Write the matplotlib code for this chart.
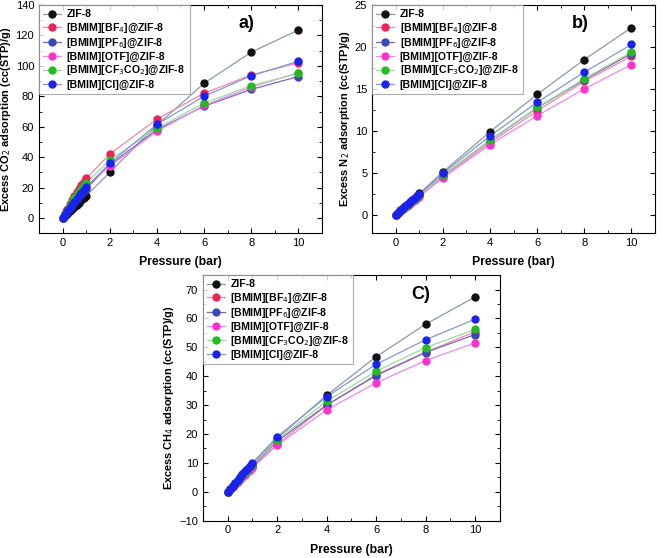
import matplotlib.pyplot as plt
from matplotlib.ticker import MultipleLocator

# pressure points (bar)
pressure = [0, 0.1, 0.2, 0.3, 0.4, 0.5, 0.6, 0.7, 0.8, 0.9, 1.0, 2, 4, 6, 8, 10]

labels = ["ZIF-8", "[BMIM][BF$_4$]@ZIF-8", "[BMIM][PF$_6$]@ZIF-8",
          "[BMIM][OTF]@ZIF-8", "[BMIM][CF$_3$CO$_2$]@ZIF-8", "[BMIM][Cl]@ZIF-8"]

co2_zif8 = [0, 1.4, 2.9, 4.3, 5.8, 7.2, 8.7, 10.1, 11.6, 13.0, 14.5, 30, 61, 88.5, 109, 123.5]
co2_bf4 = [0, 3.2, 6.2, 9.0, 11.7, 14.3, 16.8, 19.2, 21.6, 23.8, 26.0, 42, 65, 82, 94, 102]
co2_pf6 = [0, 2.3, 4.5, 6.6, 8.6, 10.6, 12.5, 14.3, 16.0, 17.6, 19.2, 35, 58, 73.5, 84.5, 93]
co2_otf = [0, 2.6, 5.0, 7.3, 9.5, 11.6, 13.6, 15.5, 17.4, 19.2, 21.0, 34, 57, 74, 86, 95.5]
co2_cf3co2 = [0, 2.8, 5.4, 8.0, 10.5, 12.9, 15.1, 17.3, 19.4, 21.4, 23.2, 38, 59, 75.5, 87, 95]
co2_cl = [0, 2.3, 4.5, 6.7, 8.8, 10.8, 12.8, 14.7, 16.6, 18.4, 20.2, 36, 61.5, 80, 93.5, 103]

n2_zif8 = [0, 0.26, 0.52, 0.78, 1.03, 1.29, 1.54, 1.79, 2.04, 2.29, 2.54, 5.1, 9.9, 14.35, 18.5, 22.3]
n2_bf4 = [0, 0.23, 0.46, 0.69, 0.92, 1.15, 1.37, 1.59, 1.81, 2.03, 2.25, 4.5, 8.6, 12.4, 15.9, 18.9]
n2_pf6 = [0, 0.24, 0.48, 0.72, 0.96, 1.19, 1.42, 1.65, 1.88, 2.11, 2.34, 4.7, 8.85, 12.75, 16.1, 19.2]
n2_otf = [0, 0.22, 0.44, 0.66, 0.88, 1.10, 1.32, 1.53, 1.74, 1.95, 2.16, 4.4, 8.35, 11.8, 15.0, 17.9]
n2_cf3co2 = [0, 0.24, 0.48, 0.72, 0.96, 1.19, 1.42, 1.65, 1.88, 2.11, 2.35, 4.7, 8.9, 12.8, 16.2, 19.4]
n2_cl = [0, 0.26, 0.51, 0.77, 1.02, 1.27, 1.52, 1.77, 2.01, 2.25, 2.5, 4.95, 9.4, 13.4, 17.0, 20.3]

ch4_zif8 = [0, 0.95, 1.9, 2.85, 3.8, 4.75, 5.7, 6.65, 7.6, 8.55, 9.5, 18.4, 33.4, 46.7, 58.0, 67.4]
ch4_bf4 = [0, 0.88, 1.75, 2.62, 3.48, 4.33, 5.18, 6.02, 6.86, 7.69, 8.5, 16.5, 29.9, 40.5, 48.3, 55.4]
ch4_pf6 = [0, 0.92, 1.83, 2.74, 3.64, 4.53, 5.42, 6.3, 7.18, 8.05, 8.9, 17.5, 30.0, 40.2, 48.2, 54.4]
ch4_otf = [0, 0.86, 1.72, 2.57, 3.41, 4.25, 5.08, 5.9, 6.72, 7.53, 8.3, 16.1, 28.3, 37.7, 45.4, 51.5]
ch4_cf3co2 = [0, 0.96, 1.91, 2.86, 3.8, 4.74, 5.67, 6.59, 7.51, 8.42, 9.3, 17.9, 31.3, 41.7, 49.9, 56.2]
ch4_cl = [0, 1.03, 2.05, 3.07, 4.08, 5.08, 6.07, 7.06, 8.04, 9.01, 10.0, 19.0, 32.9, 44.1, 52.6, 59.7]

marker_colors = ["#111111", "#ee2255", "#3a48b8", "#ff33cc", "#22bb22", "#1a22ee"]
line_colors = ["#8a9aa8", "#ee88aa", "#7a66bb", "#ee88ee", "#99dd99", "#8896cc"]

plt.rcParams['font.family'] = ['Liberation Sans', 'DejaVu Sans']

fig = plt.figure(figsize=(6.61, 5.58), dpi=100)


def panel(rect, series, ylim, ymajor, yminor, ylabel, tag):
    ax = fig.add_axes(rect)
    for vals, lab, mc, lc in zip(series, labels, marker_colors, line_colors):
        ax.plot(pressure, vals, '-', color=lc, lw=0.9, zorder=2)
        ax.plot(pressure, vals, 'o', color=mc, ms=5, zorder=3, label=lab)
    ax.set_xlim(-1, 11)
    ax.set_ylim(*ylim)
    ax.xaxis.set_major_locator(MultipleLocator(2))
    ax.xaxis.set_minor_locator(MultipleLocator(1))
    ax.yaxis.set_major_locator(MultipleLocator(ymajor))
    ax.yaxis.set_minor_locator(MultipleLocator(yminor))
    ax.tick_params(which='both', direction='in', top=True, right=True, labelsize=8)
    ax.tick_params(which='major', length=3.5)
    ax.tick_params(which='minor', length=2)
    ax.set_xlabel("Pressure (bar)", fontsize=8.8, fontweight='bold', labelpad=6)
    ax.set_ylabel(ylabel, fontsize=7.9, fontweight='bold', labelpad=2)
    # legend handles: line through marker
    handles = [plt.Line2D([], [], color=lc, lw=0.9, marker='o', ms=5,
                          markerfacecolor=mc, markeredgecolor=mc)
               for mc, lc in zip(marker_colors, line_colors)]
    leg = ax.legend(handles, labels, loc='upper left', frameon=True,
                    fancybox=False, edgecolor='#999999', borderaxespad=0.0,
                    handlelength=1.7, handletextpad=0.5, labelspacing=0.2,
                    borderpad=0.4,
                    prop={'family': ['Liberation Sans Narrow', 'Liberation Sans'],
                          'weight': 'bold', 'size': 7.6})
    leg.get_frame().set_linewidth(0.8)
    ax.text(0.735, 0.92, tag, transform=ax.transAxes, fontsize=13, fontweight='bold',
            ha='center', va='center')
    return ax


panel([0.059, 0.582, 0.428, 0.409],
      [co2_zif8, co2_bf4, co2_pf6, co2_otf, co2_cf3co2, co2_cl],
      (-10, 140), 20, 10, "Excess CO$_2$ adsorption (cc(STP)/g)", "a)")
panel([0.563, 0.582, 0.428, 0.409],
      [n2_zif8, n2_bf4, n2_pf6, n2_otf, n2_cf3co2, n2_cl],
      (-2.2, 25), 5, 2.5, "Excess N$_2$ adsorption (cc(STP)/g)", "b)")
panel([0.307, 0.067, 0.449, 0.44],
      [ch4_zif8, ch4_bf4, ch4_pf6, ch4_otf, ch4_cf3co2, ch4_cl],
      (-10, 75), 10, 5, "Excess CH$_4$ adsorption (cc(STP)/g)", "C)")

fig.savefig("out.png", dpi=100)
